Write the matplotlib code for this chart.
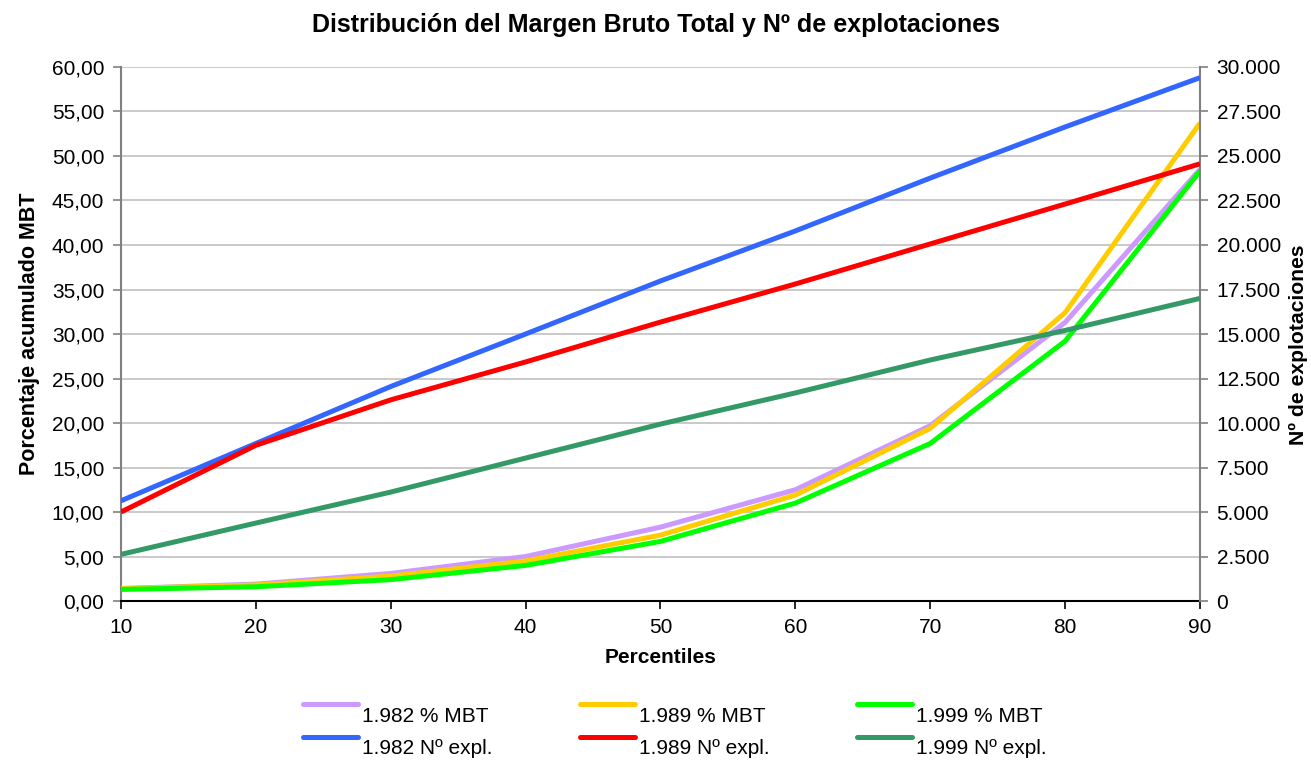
import matplotlib
matplotlib.use("Agg")
import matplotlib.pyplot as plt
from matplotlib.lines import Line2D
from matplotlib.ticker import FuncFormatter, MultipleLocator

plt.rcParams["font.family"] = ["Liberation Sans", "DejaVu Sans"]

percentiles = [10, 20, 30, 40, 50, 60, 70, 80, 90]

# Porcentaje acumulado del MBT (eje izquierdo)
mbt_1982 = [1.4, 1.9, 3.1, 5.0, 8.3, 12.5, 19.7, 31.3, 48.5]
mbt_1989 = [1.4, 1.8, 2.8, 4.5, 7.4, 11.9, 19.4, 32.4, 53.7]
mbt_1999 = [1.3, 1.6, 2.4, 4.0, 6.7, 11.0, 17.7, 29.2, 48.3]

# Nº de explotaciones (eje derecho)
expl_1982 = [5630, 8850, 12050, 15000, 17980, 20790, 23760, 26630, 29400]
expl_1989 = [5000, 8750, 11300, 13430, 15670, 17810, 20060, 22300, 24560]
expl_1999 = [2620, 4380, 6120, 8030, 9940, 11690, 13540, 15200, 17000]

mbt_labels = ["1.982 % MBT", "1.989 % MBT", "1.999 % MBT"]
expl_labels = ["1.982 Nº expl.", "1.989 Nº expl.", "1.999 Nº expl."]
mbt_colors = ["#CC99FF", "#FFCC00", "#00FF00"]
expl_colors = ["#3366FF", "#FF0000", "#339966"]

FS = 15
LW = 3.6

fig = plt.figure(figsize=(13.11, 7.63), dpi=100)
ax = fig.add_axes([0.0923, 0.2123, 0.8230, 0.6999])
ax2 = ax.twinx()

for ys, c in zip([mbt_1982, mbt_1989, mbt_1999], mbt_colors):
    ax.plot(percentiles, ys, color=c, lw=LW, solid_capstyle="butt", zorder=3)
for ys, c in zip([expl_1982, expl_1989, expl_1999], expl_colors):
    ax2.plot(percentiles, ys, color=c, lw=LW, solid_capstyle="butt", zorder=3)

ax.set_xlim(10, 90)
ax.set_ylim(0, 60)
ax2.set_ylim(0, 30000)
ax.set_xticks(percentiles)
ax.yaxis.set_major_locator(MultipleLocator(5))
ax2.yaxis.set_major_locator(MultipleLocator(2500))
ax.yaxis.set_major_formatter(FuncFormatter(lambda v, p: f"{v:.2f}".replace(".", ",")))
ax2.yaxis.set_major_formatter(FuncFormatter(lambda v, p: f"{int(v):,}".replace(",", ".")))

ax.grid(axis="y", color="#C0C0C0", lw=1.2)
ax.set_axisbelow(True)

for a in (ax, ax2):
    a.spines["top"].set_visible(False)
    a.tick_params(direction="out", length=6, width=1.2, labelsize=FS, pad=6)
ax.spines["left"].set_color("#808080")
ax.spines["left"].set_linewidth(1.5)
ax2.spines["right"].set_color("#808080")
ax2.spines["right"].set_linewidth(1.5)
ax2.spines["left"].set_visible(False)
ax.spines["right"].set_visible(False)
ax.spines["bottom"].set_linewidth(1.5)
ax2.spines["bottom"].set_visible(False)
ax.tick_params(axis="y", color="#808080")
ax2.tick_params(axis="y", color="#808080")

ax.set_xlabel("Percentiles", fontsize=FS, fontweight="bold", labelpad=8)
ax.set_ylabel("Porcentaje acumulado MBT", fontsize=15.5, fontweight="bold")
ax2.set_ylabel("Nº de explotaciones", fontsize=15.2, fontweight="bold", rotation=90)
ax2.yaxis.set_label_coords(1.0825, 0.48)
ax.yaxis.set_label_coords(-0.075, 0.5)
fig.text(0.5, 0.967, "Distribución del Margen Bruto Total y Nº de explotaciones",
         ha="center", va="center", fontsize=18, fontweight="bold")

# Leyenda: línea encima y a la izquierda del texto
W, H = 1311, 763
col_x = [303, 580, 857]
rows = [(mbt_labels, mbt_colors, 704), (expl_labels, expl_colors, 737)]
for labels, colors, y in rows:
    for x0, lab, c in zip(col_x, labels, colors):
        fig.add_artist(Line2D([x0 / W, (x0 + 55) / W], [1 - y / H, 1 - y / H],
                              color=c, lw=LW, solid_capstyle="round"))
        fig.text((x0 + 59) / W, 1 - (y + 12) / H, lab, fontsize=FS,
                 ha="left", va="center")

fig.savefig("out.png", dpi=100)
